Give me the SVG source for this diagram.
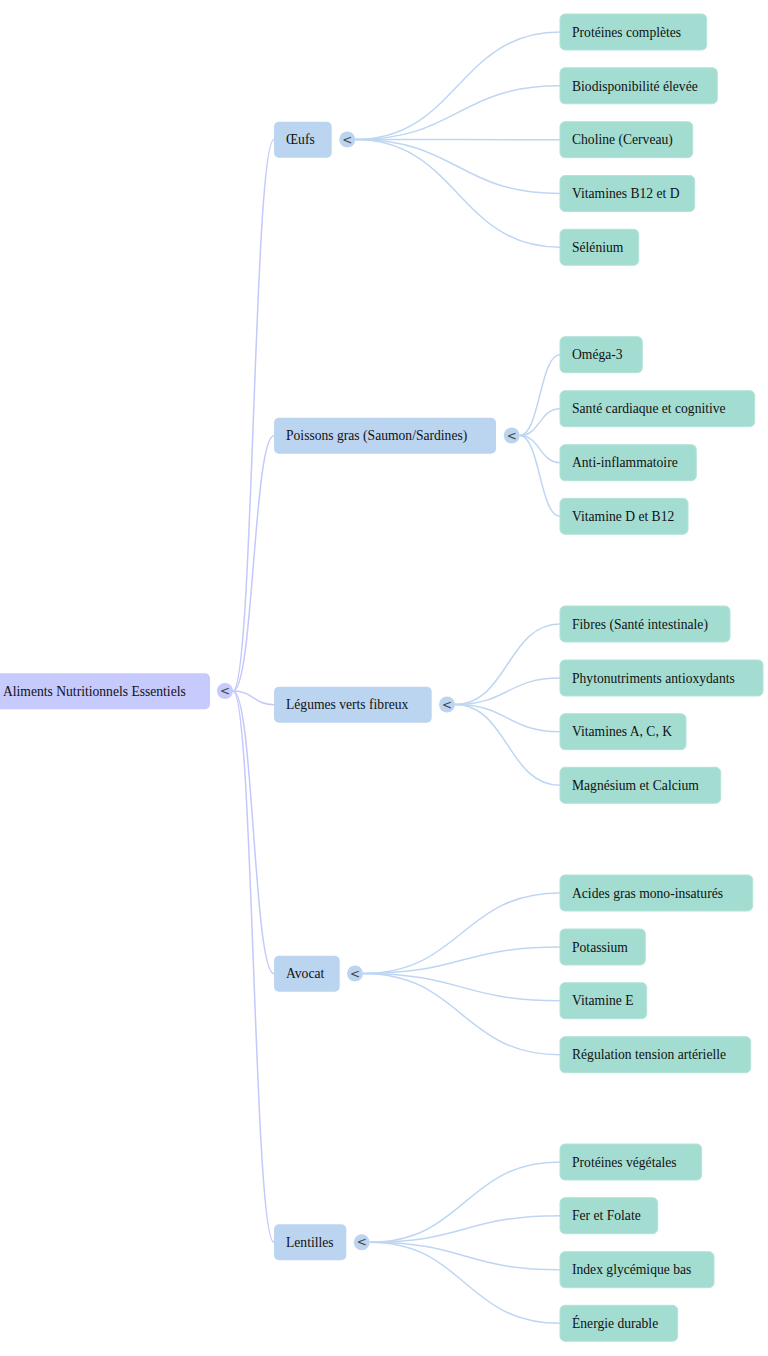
<svg xmlns="http://www.w3.org/2000/svg" width="768" height="1356" viewBox="0 0 768 1356">
<style>
text{font-family:"Liberation Serif","Times New Roman",serif;font-size:13.6px;fill:#111111}
.root{fill:#c6cafd}
.l1{fill:#bbd4f0}
.leaf{fill:#a3ddd1;stroke:#b3e3d9;stroke-width:1}
.rl{fill:none;stroke:#c3c9fb;stroke-width:1.5}
.ll{fill:none;stroke:#bfd6f3;stroke-width:1.5}
.tog{font-family:"DejaVu Sans",sans-serif;font-size:12px;fill:#444;text-anchor:middle}
</style>
<rect width="768" height="1356" fill="#ffffff"/>
<g id="connectors">
<path class="rl" d="M233 691 C253.5 691 253.5 139.7 274 139.7"/>
<path class="rl" d="M233 691 C253.5 691 253.5 435.7 274 435.7"/>
<path class="rl" d="M233 691 C253.5 691 253.5 704.7 274 704.7"/>
<path class="rl" d="M233 691 C253.5 691 253.5 973.7 274 973.7"/>
<path class="rl" d="M233 691 C253.5 691 253.5 1242.3 274 1242.3"/>
<path class="ll" d="M355.3 139.5 C457.7 139.5 457.7 32 560 32"/>
<path class="ll" d="M355.3 139.5 C457.7 139.5 457.7 85.8 560 85.8"/>
<path class="ll" d="M355.3 139.5 C457.7 139.5 457.7 139.7 560 139.7"/>
<path class="ll" d="M355.3 139.5 C457.7 139.5 457.7 193.5 560 193.5"/>
<path class="ll" d="M355.3 139.5 C457.7 139.5 457.7 247.3 560 247.3"/>
<path class="ll" d="M519.7 435.5 C539.8 435.5 539.8 354.7 560 354.7"/>
<path class="ll" d="M519.7 435.5 C539.8 435.5 539.8 408.7 560 408.7"/>
<path class="ll" d="M519.7 435.5 C539.8 435.5 539.8 462.7 560 462.7"/>
<path class="ll" d="M519.7 435.5 C539.8 435.5 539.8 516.3 560 516.3"/>
<path class="ll" d="M455 704.5 C507.5 704.5 507.5 624 560 624"/>
<path class="ll" d="M455 704.5 C507.5 704.5 507.5 678 560 678"/>
<path class="ll" d="M455 704.5 C507.5 704.5 507.5 731.7 560 731.7"/>
<path class="ll" d="M455 704.5 C507.5 704.5 507.5 785.3 560 785.3"/>
<path class="ll" d="M363 973.5 C461.5 973.5 461.5 893 560 893"/>
<path class="ll" d="M363 973.5 C461.5 973.5 461.5 947 560 947"/>
<path class="ll" d="M363 973.5 C461.5 973.5 461.5 1000.7 560 1000.7"/>
<path class="ll" d="M363 973.5 C461.5 973.5 461.5 1054.7 560 1054.7"/>
<path class="ll" d="M369.7 1242.3 C464.8 1242.3 464.8 1162 560 1162"/>
<path class="ll" d="M369.7 1242.3 C464.8 1242.3 464.8 1215.7 560 1215.7"/>
<path class="ll" d="M369.7 1242.3 C464.8 1242.3 464.8 1269.7 560 1269.7"/>
<path class="ll" d="M369.7 1242.3 C464.8 1242.3 464.8 1323.3 560 1323.3"/>
</g>
<g id="root">
<rect class="root" x="-9" y="673.3" width="219" height="36" rx="5"/>
<text x="3" y="696">Aliments Nutritionnels Essentiels</text>
<circle class="root" cx="225" cy="691" r="8"/>
<text class="tog" x="225" y="695">&lt;</text>
</g>
<g id="oeufs">
<rect class="l1" x="274" y="121.7" width="57.7" height="36" rx="5"/>
<text x="286" y="144.4">Œufs</text>
<circle class="l1" cx="347.3" cy="139.5" r="8"/>
<text class="tog" x="347.3" y="143.5">&lt;</text>
</g>
<g id="poissons">
<rect class="l1" x="274" y="417.7" width="222" height="36" rx="5"/>
<text x="286" y="440.4">Poissons gras (Saumon/Sardines)</text>
<circle class="l1" cx="511.7" cy="435.5" r="8"/>
<text class="tog" x="511.7" y="439.5">&lt;</text>
</g>
<g id="legumes">
<rect class="l1" x="274" y="686.7" width="157.7" height="36" rx="5"/>
<text x="286" y="709.4">Légumes verts fibreux</text>
<circle class="l1" cx="447" cy="704.5" r="8"/>
<text class="tog" x="447" y="708.5">&lt;</text>
</g>
<g id="avocat">
<rect class="l1" x="274" y="955.7" width="65.7" height="36" rx="5"/>
<text x="286" y="978.4">Avocat</text>
<circle class="l1" cx="355" cy="973.5" r="8"/>
<text class="tog" x="355" y="977.5">&lt;</text>
</g>
<g id="lentilles">
<rect class="l1" x="274" y="1224.3" width="72.3" height="36" rx="5"/>
<text x="286" y="1247">Lentilles</text>
<circle class="l1" cx="361.7" cy="1242.3" r="8"/>
<text class="tog" x="361.7" y="1246.3">&lt;</text>
</g>
<g id="oeufs-leaves">
<g id="n-proteines-completes"><rect class="leaf" x="560" y="14" width="146.7" height="36" rx="5"/><text x="572" y="36.7">Protéines complètes</text></g>
<g id="n-biodisponibilite"><rect class="leaf" x="560" y="67.8" width="157.3" height="36" rx="5"/><text x="572" y="90.5">Biodisponibilité élevée</text></g>
<g id="n-choline"><rect class="leaf" x="560" y="121.7" width="132.7" height="36" rx="5"/><text x="572" y="144.4">Choline (Cerveau)</text></g>
<g id="n-vitamines-b12-d"><rect class="leaf" x="560" y="175.5" width="134.7" height="36" rx="5"/><text x="572" y="198.2">Vitamines B12 et D</text></g>
<g id="n-selenium"><rect class="leaf" x="560" y="229.3" width="78.7" height="36" rx="5"/><text x="572" y="252">Sélénium</text></g>
</g>
<g id="poissons-leaves">
<g id="n-omega3"><rect class="leaf" x="560" y="336.7" width="82.3" height="36" rx="5"/><text x="572" y="359.4">Oméga-3</text></g>
<g id="n-sante-cardiaque"><rect class="leaf" x="560" y="390.7" width="194.7" height="36" rx="5"/><text x="572" y="413.4">Santé cardiaque et cognitive</text></g>
<g id="n-anti-inflammatoire"><rect class="leaf" x="560" y="444.7" width="136.3" height="36" rx="5"/><text x="572" y="467.4">Anti-inflammatoire</text></g>
<g id="n-vitamine-d-b12"><rect class="leaf" x="560" y="498.3" width="128" height="36" rx="5"/><text x="572" y="521">Vitamine D et B12</text></g>
</g>
<g id="legumes-leaves">
<g id="n-fibres"><rect class="leaf" x="560" y="606" width="170" height="36" rx="5"/><text x="572" y="628.7">Fibres (Santé intestinale)</text></g>
<g id="n-phyto"><rect class="leaf" x="560" y="660" width="203" height="36" rx="5"/><text x="572" y="682.7">Phytonutriments antioxydants</text></g>
<g id="n-vitamines-ack"><rect class="leaf" x="560" y="713.7" width="126" height="36" rx="5"/><text x="572" y="736.4">Vitamines A, C, K</text></g>
<g id="n-magnesium"><rect class="leaf" x="560" y="767.3" width="160.7" height="36" rx="5"/><text x="572" y="790">Magnésium et Calcium</text></g>
</g>
<g id="avocat-leaves">
<g id="n-acides-gras"><rect class="leaf" x="560" y="875" width="192.7" height="36" rx="5"/><text x="572" y="897.7">Acides gras mono-insaturés</text></g>
<g id="n-potassium"><rect class="leaf" x="560" y="929" width="85.3" height="36" rx="5"/><text x="572" y="951.7">Potassium</text></g>
<g id="n-vitamine-e"><rect class="leaf" x="560" y="982.7" width="86.7" height="36" rx="5"/><text x="572" y="1005.4">Vitamine E</text></g>
<g id="n-regulation"><rect class="leaf" x="560" y="1036.7" width="190.7" height="36" rx="5"/><text x="572" y="1059.4">Régulation tension artérielle</text></g>
</g>
<g id="lentilles-leaves">
<g id="n-proteines-vegetales"><rect class="leaf" x="560" y="1144" width="141.7" height="36" rx="5"/><text x="572" y="1166.7">Protéines végétales</text></g>
<g id="n-fer-folate"><rect class="leaf" x="560" y="1197.7" width="97.7" height="36" rx="5"/><text x="572" y="1220.4">Fer et Folate</text></g>
<g id="n-index-glycemique"><rect class="leaf" x="560" y="1251.7" width="154" height="36" rx="5"/><text x="572" y="1274.4">Index glycémique bas</text></g>
<g id="n-energie"><rect class="leaf" x="560" y="1305.3" width="117.7" height="36" rx="5"/><text x="572" y="1328">Énergie durable</text></g>
</g>
</svg>
